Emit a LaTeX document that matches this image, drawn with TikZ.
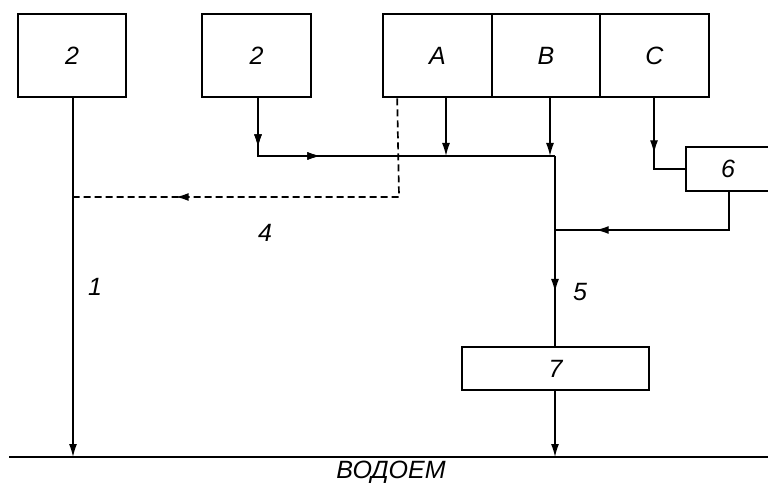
\documentclass[tikz,border=0pt]{standalone}
\usepackage{fontspec}
\setmainfont{Liberation Sans}
\usetikzlibrary{arrows.meta,decorations.markings}

\tikzset{
  lbl/.style={font=\fontsize{25}{29}\selectfont\itshape, inner sep=0pt},
  unit/.style={draw, line width=2.6pt, inner sep=0pt, lbl},
  tip/.style={-{Latex[length=13pt,width=8pt]}},
  flow/.style={line width=1.3pt},
  dashflow/.style={line width=1.7pt, dash pattern=on 7pt off 4pt},
  arrowat/.style={postaction={decorate}, decoration={markings,
      mark=at position #1 with {\arrow{Latex[length=13pt,width=8pt]}}}},
}

\begin{document}
\begin{tikzpicture}[x=1pt,y=-1pt]
  \useasboundingbox (0,0) rectangle (768,486);
  \clip (0,0) rectangle (768,486);

  % source units
  \node[unit, minimum width=108pt, minimum height=83pt] (s1) at (72,55.5) {2};
  \node[unit, minimum width=109pt, minimum height=83pt] (s2) at (256.5,55.5) {2};
  \node[unit, minimum width=109pt, minimum height=83pt] (ua) at (437.5,55.5) {A};
  \node[unit, minimum width=108pt, minimum height=83pt] (ub) at (546,55.5) {B};
  \node[unit, minimum width=109pt, minimum height=83pt] (uc) at (654.5,55.5) {C};

  % treatment units
  \node[unit, minimum width=84pt, minimum height=44pt] (u6) at (728,169) {6};
  \node[unit, minimum width=187pt, minimum height=43pt] (u7) at (555.5,368.5) {7};

  % water body
  \coordinate (gl) at (9,457);
  \coordinate (gr) at (768,457);
  \draw[line width=2.8pt] (gl) -- (gr);
  \node[lbl] (wb) at (391,472) {ВОДОЕМ};

  % junctions
  \coordinate (jh) at (258,156);
  \coordinate (jb) at (555,156);
  \coordinate (jt) at (555,230);
  \coordinate (jd) at (399,197);

  % stream 1
  \draw[flow, tip] ([xshift=1pt]s1.south) -- ([xshift=1pt]s1.south |- gl);
  \coordinate (j1) at ([xshift=1pt]s1.south |- jd);

  % stream 4 (dashed)
  \draw[dashflow, arrowat=322pt] ([xshift=15.5pt]ua.south west) -- (jd) -- (j1);

  % collector
  \draw[flow, arrowat=49pt, arrowat=120pt] ([xshift=1.5pt]s2.south) -- (jh) -- (jb);
  \draw[flow, tip] ([xshift=8.5pt]ua.south) -- ([xshift=8.5pt]ua.south |- jb);
  \draw[flow, tip] ([xshift=4pt]ub.south) -- ([xshift=4pt]ub.south |- jb);
  \draw[flow, arrowat=136pt] (jb) -- (u7.north -| jb);

  % unit 6 loop
  \draw[flow, arrowat=55pt] ([xshift=-0.5pt]uc.south) |- (u6.west);
  \draw[flow, arrowat=171pt] ([xshift=1pt]u6.south) |- (jt);

  % outlet of 7
  \draw[flow, tip] (u7.south -| jb) -- (jb |- gl);

  % stream labels
  \node[lbl] (l4) at (265,233) {4};
  \node[lbl] (l1) at (95,287) {1};
  \node[lbl] (l5) at (580,292) {5};
\end{tikzpicture}
\end{document}
